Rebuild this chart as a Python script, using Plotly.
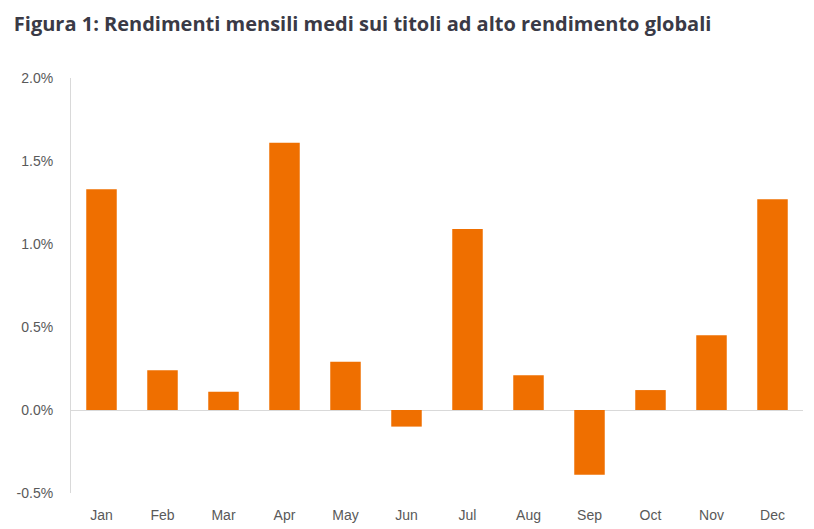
import plotly.graph_objects as go

months = ["Jan", "Feb", "Mar", "Apr", "May", "Jun", "Jul", "Aug", "Sep", "Oct", "Nov", "Dec"]
returns = [1.33, 0.24, 0.11, 1.61, 0.29, -0.10, 1.09, 0.21, -0.39, 0.12, 0.45, 1.27]
y_ticks = [-0.5, 0.0, 0.5, 1.0, 1.5, 2.0]
y_tick_labels = ["-0.5%", "0.0%", "0.5%", "1.0%", "1.5%", "2.0%"]
title = "Figura 1: Rendimenti mensili medi sui titoli ad alto rendimento globali"

fig = go.Figure(go.Bar(x=months, y=returns, marker=dict(color="#ef6f00", line=dict(width=0)), width=0.5))

fig.update_layout(
    width=814, height=529,
    margin=dict(l=71, r=11, t=78, b=36),
    paper_bgcolor="white", plot_bgcolor="white",
    showlegend=False,
    title=dict(text="<b>" + title + "</b>", x=0.017, xanchor="left", y=0.955, yanchor="middle",
               font=dict(family="Open Sans", size=20, color="#3a3a46")),
    font=dict(family="Liberation Sans, Arial", size=14, color="#595959"),
)
fig.update_xaxes(showgrid=False, showline=False, zeroline=False, ticks="", automargin=False,
                 tickfont=dict(size=14, color="#595959"), ticklabelstandoff=12)
fig.update_yaxes(range=[-0.5, 2.0], tickvals=y_ticks, ticktext=y_tick_labels, automargin=False,
                 showgrid=False, zeroline=True, zerolinecolor="#d9d9d9", zerolinewidth=1,
                 showline=True, linecolor="#d9d9d9", linewidth=1, ticks="",
                 tickfont=dict(size=14, color="#595959"), ticklabelstandoff=14)

fig.write_html("out.html")
